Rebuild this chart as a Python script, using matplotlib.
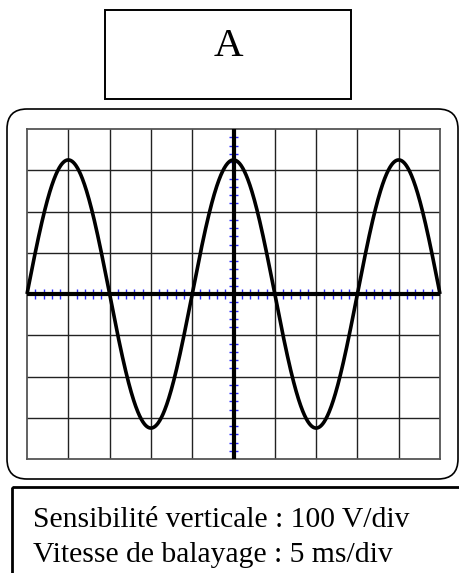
import numpy as np
import matplotlib
matplotlib.use("Agg")
import matplotlib.pyplot as plt
from matplotlib.patches import FancyBboxPatch, Rectangle

label = "A"
v_sens = 100          # V/div
t_sweep = 5           # ms/div
n_div_x = 10
n_div_y = 8
u_max = 325           # V (peak, ~3.25 div)
freq = 50             # Hz (period 4 div = 20 ms)
info_lines = ["Sensibilité verticale : 100 V/div",
              "Vitesse de balayage : 5 ms/div"]

W, H = 459, 573
fig = plt.figure(figsize=(W / 100, H / 100), dpi=100)
fig.patch.set_facecolor("white")

# decoration layer in pixel coords
deco = fig.add_axes([0, 0, 1, 1])
deco.set_xlim(0, W)
deco.set_ylim(H, 0)
deco.axis("off")

deco.add_patch(Rectangle((105, 10), 246, 89, fill=False, ec="black", lw=1.4))
deco.text(228, 56.5, label, ha="center", va="baseline",
          fontfamily="Liberation Serif", fontsize=29.5)

deco.add_patch(FancyBboxPatch((7 + 20, 109 + 20), 451 - 40, 370 - 40,
                              boxstyle="round,pad=20", fill=False,
                              ec="black", lw=1.2))

deco.add_patch(Rectangle((12, 487), 460, 100, fill=False, ec="black",
                         lw=2, clip_on=False))
for i, line in enumerate(info_lines):
    deco.text(33, 527 + 35 * i, line, ha="left", va="baseline",
              fontfamily="Liberation Serif", fontsize=21.3)

# scope screen
x0, y0, x1, y1 = 27, 129, 440, 459
ax = fig.add_axes([x0 / W, 1 - y1 / H, (x1 - x0) / W, (y1 - y0) / H])
ax.set_facecolor("none")
half_t = n_div_x / 2 * t_sweep
half_v = n_div_y / 2 * v_sens
ax.set_xlim(-half_t, half_t)
ax.set_ylim(-half_v, half_v)
ax.set_xticks([])
ax.set_yticks([])
for s in ax.spines.values():
    s.set_color("#555555")
    s.set_linewidth(1.3)

grid_c = "#222222"
for k in range(1, n_div_x):
    ax.axvline(-half_t + k * t_sweep, color=grid_c, lw=1.0, zorder=1)
for k in range(1, n_div_y):
    ax.axhline(-half_v + k * v_sens, color=grid_c, lw=1.0, zorder=1)

# central axes
ax.axhline(0, color="black", lw=3.0, zorder=3)
ax.axvline(0, color="black", lw=3.0, zorder=3)

# blue sub-division ticks
sub = 5
tx = [(-half_t + (k / sub) * t_sweep) for k in range(n_div_x * sub + 1) if k % sub]
ty = [(-half_v + (k / sub) * v_sens) for k in range(n_div_y * sub + 1) if k % sub]
dy = v_sens * 0.11
dx = t_sweep * 0.11
for x in tx:
    ax.plot([x, x], [-dy, dy], color="#2a2aff", lw=1.0, zorder=2,
            solid_capstyle="butt")
for y in ty:
    ax.plot([-dx, dx], [y, y], color="#2a2aff", lw=1.0, zorder=2,
            solid_capstyle="butt")

# signal
t = np.linspace(-half_t, half_t, 1000)   # ms
u = u_max * np.cos(2 * np.pi * freq * t / 1000)
ax.plot(t, u, color="black", lw=2.6, zorder=4, clip_on=False,
        solid_capstyle="butt")

fig.savefig("out.png", dpi=100)
